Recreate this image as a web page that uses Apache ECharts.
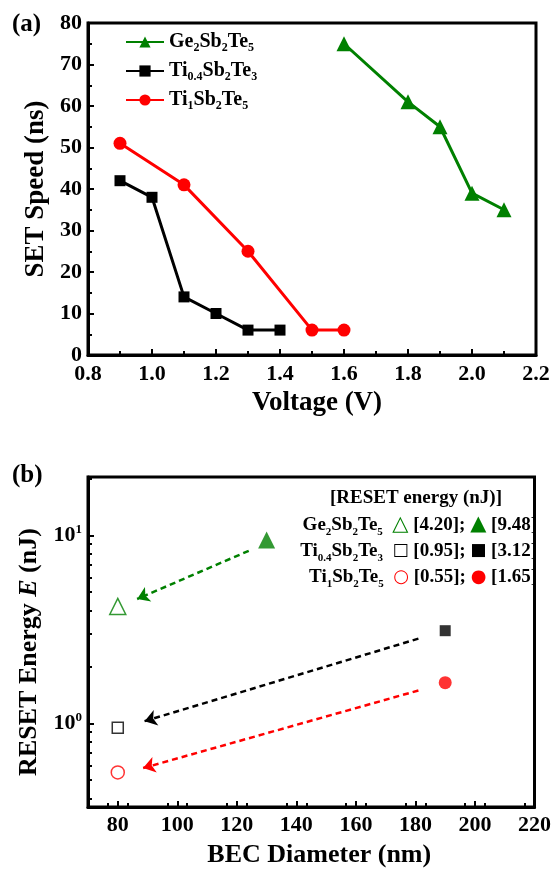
<!DOCTYPE html>
<html>
<head>
<meta charset="utf-8">
<script src="https://cdn.jsdelivr.net/npm/echarts@6/dist/echarts.min.js"></script>
<style>
  html, body { margin: 0; padding: 0; background: #fff; }
  #chart { width: 554px; height: 869px; }
</style>
</head>
<body>
<div id="chart"></div>
<script>
// ---- panel (a): SET speed vs voltage ----
const seriesNames = ['Ge2Sb2Te5', 'Ti0.4Sb2Te3', 'Ti1Sb2Te5'];
const voltGST = [1.6, 1.8, 1.9, 2.0, 2.1];
const speedGST = [75, 61, 55, 39, 35];
const voltTi04 = [0.9, 1.0, 1.1, 1.2, 1.3, 1.4];
const speedTi04 = [42, 38, 14, 10, 6, 6];
const voltTi1 = [0.9, 1.1, 1.3, 1.5, 1.6];
const speedTi1 = [51, 41, 25, 6, 6];

// ---- panel (b): RESET energy vs BEC diameter ----
const becSmall = [80, 80, 80];
const energySmall = [4.20, 0.95, 0.55];
const becLarge = [130, 190, 190];
const energyLarge = [9.48, 3.12, 1.65];
// dashed arrows (data coords), from large BEC towards small BEC
const arrowFrom = [[124, 8.3], [181, 2.83], [181, 1.5]];
const arrowTo = [[86.5, 4.6], [89, 1.03], [88.5, 0.58]];

const xTicksB = [80, 100, 120, 140, 160, 180, 200, 220];
const yTicksB = [1, 10];

const colors = ['#008000', '#000000', '#ff0000'];
const symbols = ['triangle', 'rect', 'circle'];
const hollowChars = ['\u25B3', '\u25A1', '\u25CB'];
const filledChars = ['\u25B2', '\u25A0', '\u25CF'];
const FONT = '"Liberation Serif", "Times New Roman", serif';

// minor ticks: two between x majors, log-style on y
const xMinorB = [];
for (let v = 70; v < 220; v += 20) {
  xMinorB.push(v + 20 / 3, v + 40 / 3);
}
const yMinorB = [];
[0.1, 1, 10].forEach(d => {
  for (let k = 2; k <= 9; k++) yMinorB.push(+(k * d).toFixed(2));
});

function chem(name, n, s) {
  return name.replace(/([A-Z][a-z]?)([\d.]+)/g, '{' + n + '|$1}{' + s + '|$2}');
}

function subRich(size, lh) {
  return {
    n: { fontFamily: FONT, fontWeight: 'bold', fontSize: size, color: '#000', lineHeight: lh },
    s: { fontFamily: FONT, fontWeight: 'bold', fontSize: Math.round(size * 0.6), color: '#000',
         lineHeight: Math.round(size * 0.55), verticalAlign: 'bottom' }
  };
}

const labelStyle = { color: '#000', fontFamily: FONT, fontWeight: 'bold', fontSize: 22 };
const nameStyleA = { color: '#000', fontFamily: FONT, fontWeight: 'bold', fontSize: 27 };
const nameStyleB = { color: '#000', fontFamily: FONT, fontWeight: 'bold', fontSize: 26 };
const tickLine = { color: '#000', width: 2 };

function pairs(xs, ys) {
  return xs.map((x, i) => [x, ys[i]]);
}

const lineData = [pairs(voltGST, speedGST), pairs(voltTi04, speedTi04), pairs(voltTi1, speedTi1)];
const lineSizes = [15, 11, 13];

const series = [];
lineData.forEach((d, i) => {
  series.push({
    name: seriesNames[i],
    type: 'line',
    xAxisIndex: 0,
    yAxisIndex: 0,
    data: d,
    symbol: symbols[i],
    symbolSize: lineSizes[i],
    lineStyle: { color: colors[i], width: 3 },
    itemStyle: { color: colors[i] },
    z: 3 - i
  });
});

const hollowSizes = [16, 11, 13];
const filledSizes = [17, 11, 13];
for (let i = 0; i < 3; i++) {
  series.push({
    name: 'small-' + i,
    type: 'scatter',
    xAxisIndex: 1,
    yAxisIndex: 1,
    data: [[becSmall[i], energySmall[i]]],
    symbol: symbols[i],
    symbolSize: hollowSizes[i],
    itemStyle: { color: '#fff', borderColor: colors[i], borderWidth: 1.5 },
    markLine: {
      silent: true,
      symbol: ['none', 'arrow'],
      symbolSize: 12,
      label: { show: false },
      lineStyle: { color: colors[i], width: 2.5, type: [6, 4] },
      data: [[{ coord: arrowFrom[i] }, { coord: arrowTo[i] }]]
    }
  });
  series.push({
    name: 'large-' + i,
    type: 'scatter',
    xAxisIndex: 1,
    yAxisIndex: 1,
    data: [[becLarge[i], energyLarge[i]]],
    symbol: symbols[i],
    symbolSize: filledSizes[i],
    itemStyle: { color: colors[i] }
  });
}

// legend block of panel (b)
const boxRich = subRich(19, 26);
const glyphSizes = [21, 17, 18];
colors.forEach((c, i) => {
  boxRich['c' + i] = { color: c, fontSize: glyphSizes[i], fontFamily: '"DejaVu Sans", sans-serif', lineHeight: 26 };
});
const boxRows = seriesNames.map((nm, i) =>
  chem(nm, 'n', 's') + '{n|  }{c' + i + '|' + hollowChars[i] + '}{n| [' + energySmall[i].toFixed(2) + '];}{n| }' +
  '{c' + i + '|' + filledChars[i] + '}{n| [' + energyLarge[i].toFixed(2) + ']}'
);

const option = {
  backgroundColor: '#fff',
  animation: false,
  title: [
    { text: '(a)', left: 7, top: 7, textStyle: { color: '#000', fontFamily: FONT, fontWeight: 'bold', fontSize: 25 } },
    { text: '(b)', left: 7, top: 458, textStyle: { color: '#000', fontFamily: FONT, fontWeight: 'bold', fontSize: 25 } },
    { text: '[RESET energy (nJ)]', left: 411, top: 484, textAlign: 'center',
      textStyle: { color: '#000', fontFamily: FONT, fontWeight: 'bold', fontSize: 19 } },
    { text: boxRows.join('\n'), left: 532, top: 507, textAlign: 'right',
      textStyle: { color: '#000', fontFamily: FONT, fontWeight: 'bold', fontSize: 19, rich: boxRich } }
  ],
  legend: {
    data: seriesNames,
    orient: 'vertical',
    left: 120,
    top: 27,
    itemWidth: 38,
    itemHeight: 14,
    itemGap: 7,
    formatter: n => chem(n, 'n', 's'),
    textStyle: { rich: subRich(20, 24) }
  },
  grid: [
    { left: 88, top: 23, right: 18, height: 332, show: true, borderColor: '#000', borderWidth: 3 },
    { left: 88, top: 477, right: 18, height: 330, show: true, borderColor: '#000', borderWidth: 3 }
  ],
  xAxis: [
    {
      gridIndex: 0, type: 'value', position: 'bottom', min: 0.8, max: 2.2, interval: 0.2,
      axisLine: { onZero: false, lineStyle: { color: '#000', width: 3 } },
      axisTick: { inside: true, length: 6, lineStyle: tickLine },
      minorTick: { show: true, splitNumber: 2, length: 4, lineStyle: tickLine },
      splitLine: { show: false },
      axisLabel: Object.assign({ margin: 8, formatter: v => v.toFixed(1) }, labelStyle),
      name: 'Voltage (V)', nameLocation: 'middle', nameGap: 35,
      nameTextStyle: Object.assign({ padding: [0, 0, 0, 10] }, nameStyleA)
    },
    {
      gridIndex: 1, type: 'value', position: 'bottom', min: 70, max: 220,
      axisLine: { onZero: false, lineStyle: { color: '#000', width: 3 } },
      axisTick: { inside: true, length: 6, lineStyle: tickLine, customValues: xTicksB },
      splitLine: { show: false },
      axisLabel: Object.assign({ margin: 7, customValues: xTicksB }, labelStyle),
      name: 'BEC Diameter (nm)', nameLocation: 'middle', nameGap: 35,
      nameTextStyle: Object.assign({ padding: [0, 0, 0, 16] }, nameStyleB)
    },
    {
      gridIndex: 1, type: 'value', position: 'bottom', offset: 0, min: 70, max: 220,
      axisLine: { show: false, onZero: false },
      axisTick: { inside: true, length: 4, lineStyle: tickLine, customValues: xMinorB },
      splitLine: { show: false },
      axisLabel: { show: false }
    }
  ],
  yAxis: [
    {
      gridIndex: 0, type: 'value', position: 'left', min: 0, max: 80, interval: 10,
      axisLine: { onZero: false, lineStyle: { color: '#000', width: 3 } },
      axisTick: { inside: true, length: 6, lineStyle: tickLine },
      minorTick: { show: true, splitNumber: 2, length: 4, lineStyle: tickLine },
      splitLine: { show: false },
      axisLabel: Object.assign({ margin: 6 }, labelStyle),
      name: 'SET Speed (ns)', nameLocation: 'middle', nameGap: 38, nameTextStyle: nameStyleA
    },
    {
      gridIndex: 1, type: 'log', position: 'left', min: 0.36, max: 20.5,
      axisLine: { onZero: false, lineStyle: { color: '#000', width: 3 } },
      axisTick: { inside: true, length: 6, lineStyle: tickLine, customValues: yTicksB },
      splitLine: { show: false },
      axisLabel: {
        margin: 6,
        customValues: yTicksB,
        formatter: v => '{b|10}{e|' + Math.round(Math.log10(v)) + '}',
        rich: {
          b: { color: '#000', fontFamily: FONT, fontWeight: 'bold', fontSize: 22, lineHeight: 24 },
          e: { color: '#000', fontFamily: FONT, fontWeight: 'bold', fontSize: 13, lineHeight: 13, verticalAlign: 'top' }
        }
      },
      name: 'RESET Energy {i|E} (nJ)', nameLocation: 'middle', nameGap: 40,
      nameTextStyle: Object.assign({
        padding: [0, 20, 0, 0],
        rich: { i: { color: '#000', fontFamily: FONT, fontWeight: 'bold', fontStyle: 'italic', fontSize: 26 } }
      }, nameStyleB)
    },
    {
      gridIndex: 1, type: 'log', position: 'left', offset: 0, min: 0.36, max: 20.5,
      axisLine: { show: false, onZero: false },
      axisTick: { inside: true, length: 4, lineStyle: tickLine, customValues: yMinorB },
      splitLine: { show: false },
      axisLabel: { show: false }
    }
  ],
  series: series
};

const chart = echarts.init(document.getElementById('chart'));
chart.setOption(option);
</script>
</body>
</html>
